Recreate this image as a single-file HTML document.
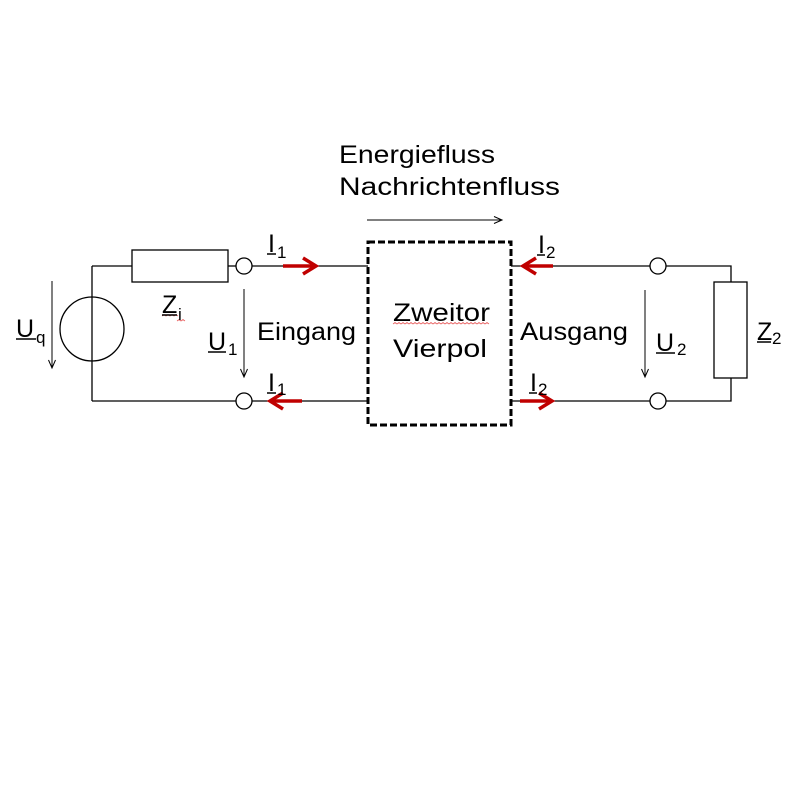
<!DOCTYPE html>
<html>
<head>
<meta charset="utf-8">
<style>
  html, body { margin:0; padding:0; background:#fff; }
  svg { display:block; }
  text { font-family: "Liberation Sans", "DejaVu Sans", sans-serif; fill:#000; }
</style>
</head>
<body>
<svg width="800" height="800" viewBox="0 0 800 800" xmlns="http://www.w3.org/2000/svg">
  <rect width="800" height="800" fill="#fff"/>

  <!-- Top labels -->
  <text x="339" y="163" font-size="25" textLength="156" lengthAdjust="spacingAndGlyphs">Energiefluss</text>
  <text x="339" y="195" font-size="25" textLength="221" lengthAdjust="spacingAndGlyphs">Nachrichtenfluss</text>
  <g stroke="#000" stroke-width="1" fill="none">
    <line x1="367" y1="220" x2="502" y2="220"/>
    <polyline points="494,216.5 502,220 494,223.5"/>
  </g>

  <!-- Left circuit wires -->
  <g stroke="#000" stroke-width="1.3" fill="none">
    <line x1="92" y1="266" x2="132" y2="266"/>
    <rect x="132" y="250" width="96" height="32"/>
    <line x1="228" y1="266" x2="236" y2="266"/>
    <circle cx="244" cy="266" r="8"/>
    <line x1="252" y1="266" x2="368" y2="266"/>
    <line x1="92" y1="266" x2="92" y2="401"/>
    <line x1="92" y1="401" x2="236" y2="401"/>
    <circle cx="244" cy="401" r="8"/>
    <line x1="252" y1="401" x2="368" y2="401"/>
    <circle cx="92" cy="329" r="32"/>
  </g>

  <!-- Right circuit wires -->
  <g stroke="#000" stroke-width="1.3" fill="none">
    <line x1="511" y1="266" x2="650" y2="266"/>
    <circle cx="658" cy="266" r="8"/>
    <polyline points="666,266 731,266 731,282"/>
    <rect x="714" y="282" width="33" height="96"/>
    <polyline points="731,378 731,401 666,401"/>
    <circle cx="658" cy="401" r="8"/>
    <line x1="650" y1="401" x2="511" y2="401"/>
  </g>

  <!-- Dashed two-port box -->
  <rect x="368" y="242" width="143" height="183" fill="none" stroke="#000" stroke-width="3" stroke-dasharray="7,3"/>

  <!-- Voltage arrows -->
  <g stroke="#000" stroke-width="1" fill="none">
    <line x1="52" y1="281" x2="52" y2="368"/>
    <polyline points="48.5,360 52,368 55.5,360"/>
    <line x1="244" y1="289" x2="244" y2="377"/>
    <polyline points="240.5,369 244,377 247.5,369"/>
    <line x1="645" y1="290" x2="645" y2="377"/>
    <polyline points="641.5,369 645,377 648.5,369"/>
  </g>

  <!-- Red current arrows -->
  <g stroke="#c00000" stroke-width="3.5" fill="none" stroke-linecap="butt" stroke-linejoin="miter">
    <line x1="283" y1="266" x2="315" y2="266"/>
    <polyline points="303,258 316,266 303,274"/>
    <line x1="302" y1="401" x2="271" y2="401"/>
    <polyline points="283,393 270,401 283,409"/>
    <line x1="553" y1="266" x2="524" y2="266"/>
    <polyline points="536,258 523,266 536,274"/>
    <line x1="520" y1="401" x2="551" y2="401"/>
    <polyline points="539,393 552,401 539,409"/>
  </g>

  <!-- Labels: block texts -->
  <text x="257" y="340" font-size="25" textLength="99" lengthAdjust="spacingAndGlyphs">Eingang</text>
  <text x="520" y="340" font-size="25" textLength="108" lengthAdjust="spacingAndGlyphs">Ausgang</text>
  <text x="393" y="321" font-size="25" textLength="97" lengthAdjust="spacingAndGlyphs">Zweitor</text>
  <text x="393" y="357" font-size="25" textLength="94" lengthAdjust="spacingAndGlyphs">Vierpol</text>
  <!-- spellcheck squiggles -->
  <polyline points="393,324 395,322.5 397,324 399,322.5 401,324 403,322.5 405,324 407,322.5 409,324 411,322.5 413,324 415,322.5 417,324 419,322.5 421,324 423,322.5 425,324 427,322.5 429,324 431,322.5 433,324 435,322.5 437,324 439,322.5 441,324 443,322.5 445,324 447,322.5 449,324 451,322.5 453,324 455,322.5 457,324 459,322.5 461,324 463,322.5 465,324 467,322.5 469,324 471,322.5 473,324 475,322.5 477,324 479,322.5 481,324 483,322.5 485,324 487,322.5 489,324" fill="none" stroke="#e86060" stroke-width="0.8"/>
  <polyline points="162,316 164,314.5 166,316 168,314.5 170,316 172,314.5 174,316 176,314.5 178,316" fill="none" stroke="#e86060" stroke-width="0.8"/>
  <polyline points="177,321 179,319.5 181,321 183,319.5 185,321" fill="none" stroke="#e86060" stroke-width="0.8"/>

  <!-- Symbol labels with underline + subscript -->
  <!-- Uq -->
  <text x="16" y="337" font-size="25">U</text>
  <line x1="16" y1="339" x2="36" y2="339" stroke="#000" stroke-width="1.5"/>
  <text x="36" y="343" font-size="17">q</text>

  <!-- Zi -->
  <text x="162" y="313" font-size="25">Z</text>
  <line x1="162" y1="315" x2="177" y2="315" stroke="#000" stroke-width="1.5"/>
  <text x="178" y="320" font-size="17">i</text>

  <!-- U1 -->
  <text x="208" y="350" font-size="25">U</text>
  <line x1="208" y1="352" x2="226" y2="352" stroke="#000" stroke-width="1.5"/>
  <text x="228" y="355" font-size="17">1</text>

  <!-- I1 top -->
  <text x="268" y="252" font-size="25">I</text>
  <line x1="267" y1="254" x2="276" y2="254" stroke="#000" stroke-width="1.5"/>
  <text x="277" y="258" font-size="17">1</text>

  <!-- I1 bottom -->
  <text x="268" y="391" font-size="25">I</text>
  <line x1="267" y1="393" x2="276" y2="393" stroke="#000" stroke-width="1.5"/>
  <text x="277" y="395" font-size="17">1</text>

  <!-- I2 top -->
  <text x="538" y="253" font-size="25">I</text>
  <line x1="537" y1="255" x2="545" y2="255" stroke="#000" stroke-width="1.5"/>
  <text x="546" y="258" font-size="17">2</text>

  <!-- I2 bottom -->
  <text x="530" y="391" font-size="25">I</text>
  <line x1="529" y1="393" x2="537" y2="393" stroke="#000" stroke-width="1.5"/>
  <text x="538" y="395" font-size="17">2</text>

  <!-- U2 -->
  <text x="656" y="351" font-size="25">U</text>
  <line x1="656" y1="353" x2="675" y2="353" stroke="#000" stroke-width="1.5"/>
  <text x="677" y="355" font-size="17">2</text>

  <!-- Z2 -->
  <text x="757" y="340" font-size="25">Z</text>
  <line x1="757" y1="342" x2="771" y2="342" stroke="#000" stroke-width="1.5"/>
  <text x="772" y="344" font-size="17">2</text>
</svg>
</body>
</html>
